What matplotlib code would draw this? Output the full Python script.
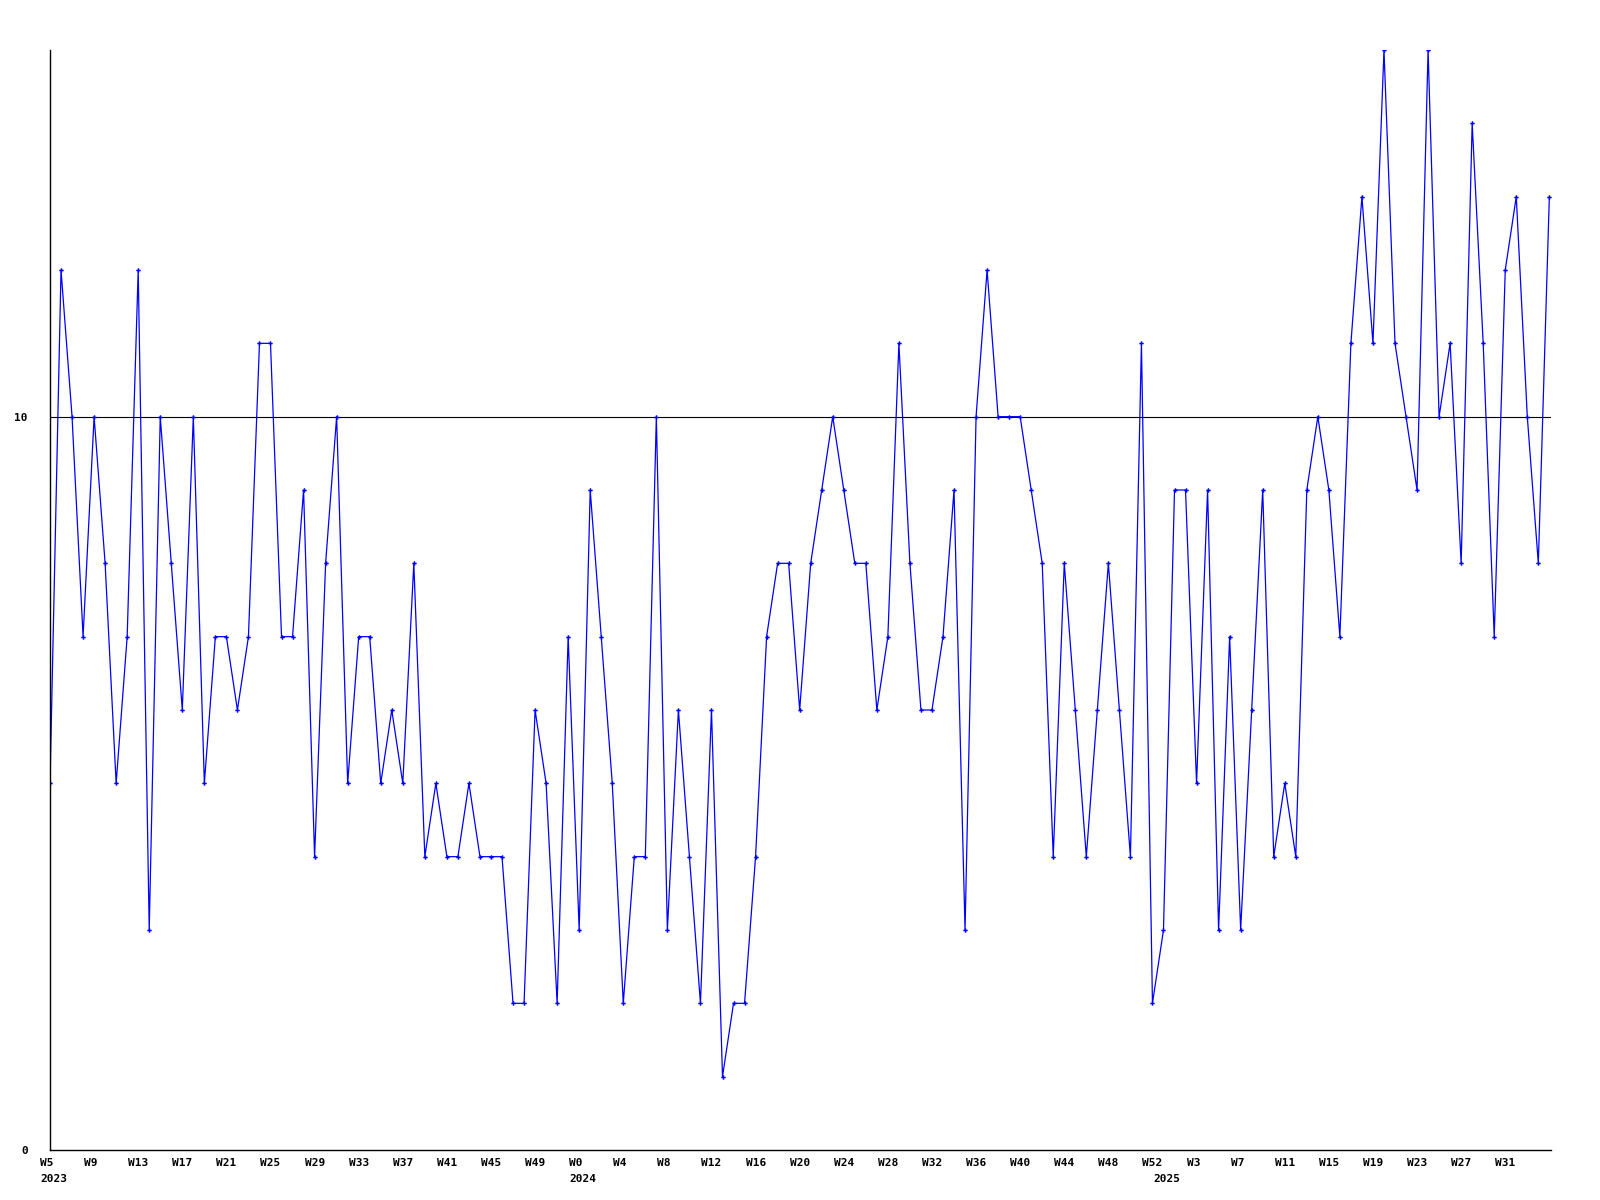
import matplotlib
matplotlib.use("Agg")
import matplotlib.pyplot as plt
import matplotlib.transforms as mtransforms

# weekly values, 2023 W5 .. 2025 W35
values = [5, 12, 10, 7, 10, 8, 5, 7, 12, 3,
          10, 8, 6, 10, 5, 7, 7, 6, 7, 11,
          11, 7, 7, 9, 4, 8, 10, 5, 7, 7,
          5, 6, 5, 8, 4, 5, 4, 4, 5, 4,
          4, 4, 2, 2, 6, 5, 2, 7, 3, 9,
          7, 5, 2, 4, 4, 10, 3, 6, 4, 2,
          6, 1, 2, 2, 4, 7, 8, 8, 6, 8,
          9, 10, 9, 8, 8, 6, 7, 11, 8, 6,
          6, 7, 9, 3, 10, 12, 10, 10, 10, 9,
          8, 4, 8, 6, 4, 6, 8, 6, 4, 11,
          2, 3, 9, 9, 5, 9, 3, 7, 3, 6,
          9, 4, 5, 4, 9, 10, 9, 7, 11, 13,
          11, 15, 11, 10, 9, 15, 10, 11, 8, 14,
          11, 7, 12, 13, 10, 8, 13]

week_ticks = [0, 4, 8, 12, 16, 20, 24, 28, 32, 36, 40, 44,
              48, 52, 56, 60, 64, 68, 72, 76, 80, 84, 88, 92, 96, 100,
              104, 108, 112, 116, 120, 124, 128, 132]
week_labels = ["W5", "W9", "W13", "W17", "W21", "W25", "W29", "W33", "W37", "W41", "W45", "W49",
               "W0", "W4", "W8", "W12", "W16", "W20", "W24", "W28", "W32", "W36", "W40", "W44", "W48", "W52",
               "W3", "W7", "W11", "W15", "W19", "W23", "W27", "W31"]
year_pos = [0, 48, 101]
year_labels = ["2023", "2024", "2025"]

fig = plt.figure(figsize=(16, 12), dpi=100)
ax = fig.add_axes([50/1600, 50/1200, 1501/1600, 1100/1200])

x = list(range(len(values)))
ax.plot(x, values, color="#0000ff", lw=0.9, marker="P", ms=3.2, mew=0)
ax.axhline(10, color="black", lw=0.8, zorder=0)

ax.set_xlim(0, len(values) - 1 + 0.15)
ax.set_ylim(0, 15)
for s in ["top", "right"]:
    ax.spines[s].set_visible(False)
ax.spines["left"].set_linewidth(1)
ax.spines["bottom"].set_linewidth(1)

font = dict(family="DejaVu Sans Mono", weight="bold", size=8)
ax.set_yticks([0, 10])
ax.set_yticklabels(["0", "10"], **font)
ax.tick_params(axis="y", length=0, pad=16)
ax.set_xticks([])

shift = mtransforms.ScaledTranslation(-10/100, 0, fig.dpi_scale_trans)
trans = mtransforms.blended_transform_factory(ax.transData, ax.transAxes) + shift
for p, lab in zip(week_ticks, week_labels):
    ax.text(p, -0.007, lab, transform=trans, ha="left", va="top", **font)
for p, lab in zip(year_pos, year_labels):
    ax.text(p, -0.022, lab, transform=trans, ha="left", va="top", **font)

fig.savefig("out.png", dpi=100)
